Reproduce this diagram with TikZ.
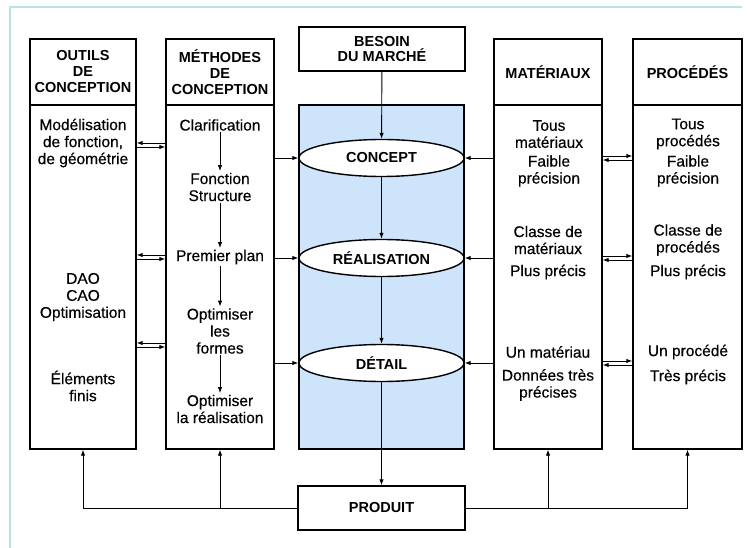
\documentclass[tikz,border=0pt]{standalone}
\usepackage{fontspec}
\setmainfont{Liberation Sans}
\newfontfamily\bodyfont[FakeBold=0.4]{Liberation Sans}
\usepackage{tikz}
\usetikzlibrary{arrows.meta,positioning,shapes.geometric}
\definecolor{framecyan}{RGB}{184,226,228}
\definecolor{panelblue}{RGB}{206,228,250}

\begin{document}
\begin{tikzpicture}[x=1pt, y=-1pt,
  colbox/.style={draw, line width=1.4pt, inner sep=0pt, minimum width=107pt},
  headtext/.style={font=\fontsize{14.5}{16}\selectfont\bfseries, align=center},
  bodytext/.style={font=\bodyfont\fontsize{15.5}{17}\selectfont, align=center, inner sep=1.5pt},
  stage/.style={draw, ellipse, line width=1.4pt, fill=white, minimum width=165pt, minimum height=37pt, inner sep=0pt, font=\fontsize{14.5}{16}\selectfont\bfseries},
  tip/.style={-{Latex[length=6pt,width=4.5pt]}, line width=0.9pt}]
\useasboundingbox (0,0) rectangle (747,548);
% Frame
\draw[framecyan, line width=2pt] (10,548) -- (10,7) -- (742,7);
% Central panel
\node[colbox, fill=panelblue, minimum width=165pt, minimum height=344pt] (panel) at (381.5,277) {};
\node[colbox, headtext, minimum width=166pt, minimum height=44pt] (besoin) at (382,49) {BESOIN\\[-1pt]DU MARCHÉ};
\node[colbox, headtext, minimum width=167pt, minimum height=44pt] (produit) at (381.5,508) {PRODUIT};
\node[stage] (concept) at (381.5,158) {CONCEPT};
\node[stage] (realis) at (381.5,258) {RÉALISATION};
\node[stage] (detail) at (381.5,363) {DÉTAIL};
% Columns
\node[colbox, headtext, minimum width=106pt, minimum height=66pt] (outhead) at (83,72) {OUTILS\\DE\\CONCEPTION};
\node[colbox, minimum width=106pt, minimum height=344pt] (outbody) at (83,277) {};
\node[colbox, headtext, minimum width=108pt, minimum height=66pt] (methhead) at (220,72) {MÉTHODES\\DE\\CONCEPTION};
\node[colbox, minimum width=108pt, minimum height=344pt] (methbody) at (220,277) {};
\node[colbox, headtext, minimum width=108pt, minimum height=66pt] (mathead) at (548,72) {MATÉRIAUX};
\node[colbox, minimum width=108pt, minimum height=344pt] (matbody) at (548,277) {};
\node[colbox, headtext, minimum width=109pt, minimum height=66pt] (prochead) at (687.5,72) {PROCÉDÉS};
\node[colbox, minimum width=109pt, minimum height=344pt] (procbody) at (687.5,277) {};
% Outils de conception
\node[bodytext] (omodel) at (83,143) {Modélisation\\de fonction,\\de géométrie};
\node[bodytext] (odao) at (83,297) {DAO\\CAO\\Optimisation};
\node[bodytext] (oelem) at (83,386) {Éléments\\finis};
% Methodes de conception
\node[bodytext] (mclar) at (220,125) {Clarification};
\node[bodytext] (mfonc) at (220,187) {Fonction\\Structure};
\node[bodytext] (mplan) at (220,257) {Premier plan};
\node[bodytext] (mform) at (220,331) {Optimiser\\les\\formes};
\node[bodytext] (mreal) at (220,409) {Optimiser\\la réalisation};
\draw[tip] (mclar) -- (mfonc);
\draw[tip] (mfonc) -- (mplan);
\draw[tip] (mplan) -- (mform);
\draw[tip] (mform) -- (mreal);
% Materiaux
\node[bodytext] (atous) at (549,134) {Tous\\matériaux};
\node[bodytext] (afaib) at (549,171) {Faible\\précision};
\node[bodytext] (aclas) at (548,240) {Classe de\\matériaux};
\node[bodytext] (aplus) at (548,272) {Plus précis};
\node[bodytext] (aun) at (548,352) {Un matériau};
\node[bodytext] (adonn) at (548,385) {Données très\\précises};
% Procedes
\node[bodytext] (ptous) at (688,134) {Tous\\procédés};
\node[bodytext] (pfaib) at (688,171) {Faible\\précision};
\node[bodytext] (pclas) at (688,240) {Classe de\\procédés};
\node[bodytext] (pplus) at (688,272) {Plus précis};
\node[bodytext] (pun) at (688,352) {Un procédé};
\node[bodytext] (ptres) at (688,377) {Très précis};
% Levels of the double arrows
\coordinate (lA) at (0,143); \coordinate (lAb) at (0,147);
\coordinate (lB) at (0,255); \coordinate (lBb) at (0,259);
\coordinate (lC) at (0,343); \coordinate (lCb) at (0,347);
\coordinate (rA) at (0,156); \coordinate (rAb) at (0,160);
\coordinate (rB) at (0,256); \coordinate (rBb) at (0,260);
\coordinate (rC) at (0,361); \coordinate (rCb) at (0,365);
\draw[tip] (methbody.west |- lA) -- (outbody.east |- lA);
\draw[tip] (outbody.east |- lAb) -- (methbody.west |- lAb);
\draw[tip] (methbody.west |- lB) -- (outbody.east |- lB);
\draw[tip] (outbody.east |- lBb) -- (methbody.west |- lBb);
\draw[tip] (methbody.west |- lC) -- (outbody.east |- lC);
\draw[tip] (outbody.east |- lCb) -- (methbody.west |- lCb);
\draw[tip] (matbody.east |- rA) -- (procbody.west |- rA);
\draw[tip] (procbody.west |- rAb) -- (matbody.east |- rAb);
\draw[tip] (matbody.east |- rB) -- (procbody.west |- rB);
\draw[tip] (procbody.west |- rBb) -- (matbody.east |- rBb);
\draw[tip] (matbody.east |- rC) -- (procbody.west |- rC);
\draw[tip] (procbody.west |- rCb) -- (matbody.east |- rCb);
% Into the stages
\draw[tip] (methbody.east |- concept) -- (concept.west);
\draw[tip] (methbody.east |- realis) -- (realis.west);
\draw[tip] (methbody.east |- detail) -- (detail.west);
\draw[tip] (matbody.west |- concept) -- (concept.east);
\draw[tip] (matbody.west |- realis) -- (realis.east);
\draw[tip] (matbody.west |- detail) -- (detail.east);
\draw[tip] (besoin) -- (concept);
\draw[tip] (concept) -- (realis);
\draw[tip] (realis) -- (detail);
\draw[tip] (detail) -- (produit);
% Feedback from the product
\draw[tip] (produit.west) -| (outbody.south);
\draw[tip] (methbody.south |- produit.west) -- (methbody.south);
\draw[tip] (produit.east) -| (procbody.south);
\draw[tip] (matbody.south |- produit.east) -- (matbody.south);
\end{tikzpicture}
\end{document}
